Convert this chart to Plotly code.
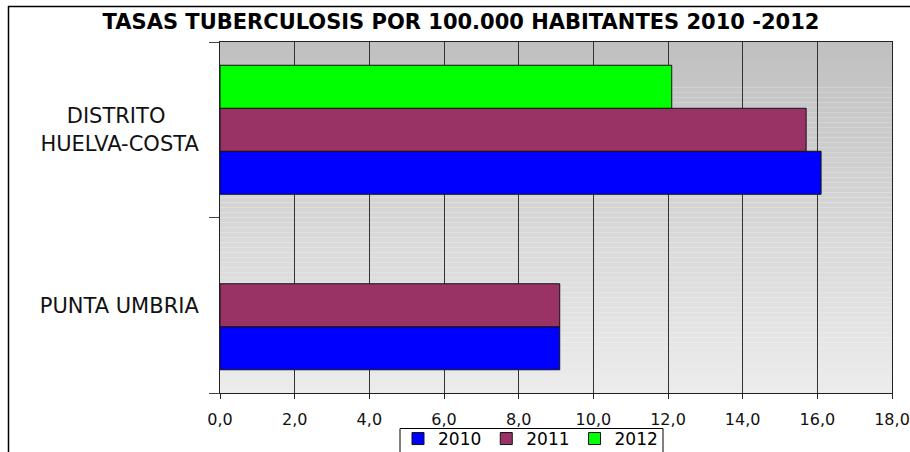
import plotly.graph_objects as go

# ---- data ----
categories = ["PUNTA UMBRIA", "DISTRITO HUELVA-COSTA"]
category_labels = ["PUNTA UMBRIA", "DISTRITO" + "\u00a0" * 5 + "<br>HUELVA-COSTA"]
series_names = ["2010", "2011", "2012"]
values_2010 = [9.1, 16.1]
values_2011 = [9.1, 15.7]
values_2012 = [None, 12.1]
series_colors = ["#0000FF", "#993366", "#00FF00"]
title_text = "TASAS TUBERCULOSIS POR 100.000 HABITANTES 2010 -2012"

W, H = 910, 452
L, R, T, B = 220, 892, 42, 393


def px_x(p):
    return (p - L) / (R - L)


def px_y(p):
    return (B - p) / (B - T)


fig = go.Figure()
for name, vals, col in zip(series_names, [values_2010, values_2011, values_2012], series_colors):
    fig.add_trace(go.Bar(
        y=categories, x=vals, name=name, orientation="h",
        marker=dict(color=col, line=dict(color="#111111", width=1)),
    ))

# gradient plot background (strips)
shapes = []
n = 70
top_c, bot_c = 192, 236
for i in range(n):
    f = i / (n - 1)
    c = round(top_c + (bot_c - top_c) * f)
    shapes.append(dict(
        type="rect", xref="x domain", yref="y domain",
        x0=0, x1=1, y0=1 - (i + 1) / n, y1=1 - i / n,
        fillcolor=f"rgb({c},{c},{c})", line=dict(width=0), layer="below",
    ))
# outer frame (top and left edges)
frame_line = dict(color="#000000", width=1.5)
shapes.append(dict(type="line", xref="paper", yref="paper",
                   x0=px_x(8), x1=px_x(910), y0=px_y(6.5), y1=px_y(6.5), line=frame_line))
shapes.append(dict(type="line", xref="paper", yref="paper",
                   x0=px_x(8.5), x1=px_x(8.5), y0=px_y(6), y1=px_y(452), line=frame_line))
# legend box
shapes.append(dict(type="rect", xref="paper", yref="paper",
                   x0=px_x(400), x1=px_x(663), y0=px_y(470), y1=px_y(428.5),
                   line=dict(color="#000000", width=1), fillcolor="white", layer="below"))

fig.update_layout(
    template="none",
    width=W, height=H, autosize=False,
    margin=dict(l=L, r=W - R, t=T, b=H - B, pad=0, autoexpand=False),
    paper_bgcolor="white", plot_bgcolor="white",
    barmode="group", bargap=0.265, bargroupgap=0,
    separators=",.",
    shapes=shapes,
    title=dict(
        text=f"<b>{title_text}</b>", xref="container", yref="container",
        x=461 / W, xanchor="center", y=1 - 22 / H, yanchor="middle",
        font=dict(family="DejaVu Sans", size=21, color="#000000"),
    ),
    legend=dict(
        orientation="h", x=px_x(398), y=px_y(421), xanchor="left", yanchor="top",
        borderwidth=0, bgcolor="rgba(0,0,0,0)",
        font=dict(family="DejaVu Sans", size=17, color="#000000"),
        traceorder="normal",
    ),
    showlegend=True,
)

fig.update_xaxes(
    range=[0, 18], dtick=2, tick0=0, tickformat=".1f",
    showgrid=True, gridcolor="#333333", gridwidth=1,
    showline=True, linecolor="#222222", linewidth=1, mirror=True,
    ticks="outside", ticklen=5, tickcolor="#222222",
    ticklabelstandoff=7, automargin=False,
    tickfont=dict(family="DejaVu Sans", size=16, color="#111111"),
    zeroline=False, fixedrange=True,
)
fig.update_yaxes(
    type="category", categoryorder="array", categoryarray=categories,
    tickvals=categories, ticktext=category_labels,
    tickson="boundaries", ticks="outside", ticklen=10, tickcolor="#444444",
    showgrid=False,
    showline=True, linecolor="#222222", linewidth=1, mirror=True,
    ticklabelstandoff=16, automargin=False,
    tickfont=dict(family="DejaVu Sans", size=21, color="#111111"),
    fixedrange=True,
)

fig.write_html("out.html", config={"displayModeBar": False},
               post_script="document.body.style.margin='0px';")
